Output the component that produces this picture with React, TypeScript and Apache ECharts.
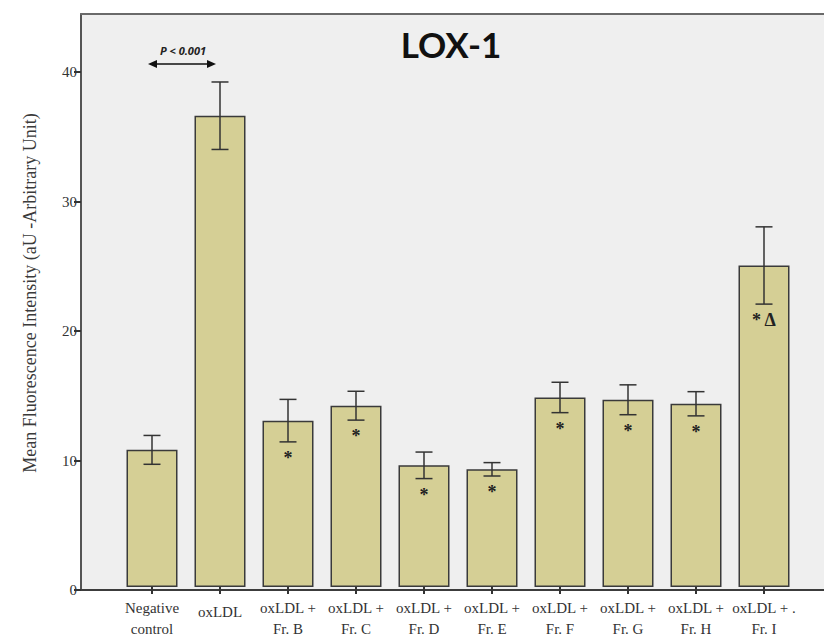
import React, { useEffect, useRef } from "react";
import * as echarts from "echarts";

const categories = [
  "Negative\ncontrol",
  "oxLDL",
  "oxLDL +\nFr. B",
  "oxLDL +\nFr. C",
  "oxLDL +\nFr. D",
  "oxLDL +\nFr. E",
  "oxLDL +\nFr. F",
  "oxLDL +\nFr. G",
  "oxLDL +\nFr. H",
  "oxLDL + .\nFr. I",
];
const means = [10.65, 36.6, 12.92, 14.08, 9.45, 9.14, 14.72, 14.54, 14.23, 24.97];
const errors = [1.12, 2.62, 1.65, 1.12, 1.03, 0.52, 1.18, 1.16, 0.94, 3.0];
const marks = ["", "", "*", "*", "*", "*", "*", "*", "*", "* \u0394"];
const yTicks = [0, 10, 20, 30, 40];
const yMax = 44.5;
const title = "LOX-1";
const yName = "Mean Fluorescence Intensity (aU -Arbitrary Unit)";
const pText = "P < 0.001";

const SERIF = "'Liberation Serif', 'DejaVu Serif', serif";

export default function App() {
  const ref = useRef<HTMLDivElement>(null);
  useEffect(() => {
    if (!ref.current) return;
    const chart = echarts.init(ref.current, undefined, { renderer: "svg" });
    const errData = means.map((m, i) => [i, m, errors[i], marks[i]]);
    const option: any = {
      animation: false,
      backgroundColor: "#ffffff",
      grid: [
        { left: 81, right: -2, top: 14, bottom: 49, show: true, backgroundColor: "#efefef", borderWidth: 0 },
        { left: 118, right: 26, top: 14, bottom: 49 },
      ],
      xAxis: [
        {
          gridIndex: 0, type: "value", min: 0, max: 1, position: "bottom",
          axisLine: { show: true, lineStyle: { color: "#3c3c3c", width: 2 } },
          axisTick: { show: false }, axisLabel: { show: false }, splitLine: { show: false },
        },
        {
          gridIndex: 0, type: "value", min: 0, max: 1, position: "top",
          axisLine: { show: true, lineStyle: { color: "#6a6a6a", width: 2 } },
          axisTick: { show: false }, axisLabel: { show: false }, splitLine: { show: false },
        },
        {
          gridIndex: 1, type: "category", data: categories, position: "bottom",
          axisLine: { show: false },
          axisTick: { show: true, alignWithLabel: true, length: 7, lineStyle: { color: "#333", width: 2 } },
          axisLabel: {
            interval: 0, margin: 10, color: "#333", fontFamily: SERIF, fontSize: 15, lineHeight: 21,
            formatter: (v: string) => (v.indexOf("\n") < 0 ? "{s|" + v + "}" : v),
            rich: { s: { fontFamily: SERIF, fontSize: 15, color: "#333", padding: [9, 0, 0, 0] } },
          },
        },
      ],
      yAxis: [
        {
          gridIndex: 0, type: "value", min: 0, max: yMax, interval: 10,
          axisLine: { show: true, lineStyle: { color: "#555", width: 2 } },
          axisTick: { show: true, length: 7, customValues: yTicks, lineStyle: { color: "#333", width: 2 } },
          axisLabel: { customValues: yTicks, margin: 4, color: "#333", fontFamily: SERIF, fontSize: 15 },
          splitLine: { show: false },
        },
        {
          gridIndex: 1, type: "value", min: 0, max: yMax, interval: 10, show: false,
          splitLine: { show: false },
        },
      ],
      series: [
        {
          type: "bar", xAxisIndex: 2, yAxisIndex: 1, data: means, barWidth: 51,
          itemStyle: { color: "#d5cf95", borderColor: "#3a3a3a", borderWidth: 1.5 },
        },
        {
          type: "custom", xAxisIndex: 2, yAxisIndex: 1, data: errData, z: 5,
          renderItem: (params: any, api: any) => {
            const i = api.value(0);
            const m = api.value(1);
            const e = api.value(2);
            const mk = marks[params.dataIndex];
            const top = api.coord([i, m + e]);
            const bot = api.coord([i, m - e]);
            const hw = 8.5;
            const st = { stroke: "#333", lineWidth: 1.5 };
            const children: any[] = [
              { type: "line", shape: { x1: top[0], y1: top[1], x2: bot[0], y2: bot[1] }, style: st },
              { type: "line", shape: { x1: top[0] - hw, y1: top[1], x2: top[0] + hw, y2: top[1] }, style: st },
              { type: "line", shape: { x1: bot[0] - hw, y1: bot[1], x2: bot[0] + hw, y2: bot[1] }, style: st },
            ];
            if (mk) {
              children.push({
                type: "text",
                x: bot[0],
                y: bot[1] + 16,
                style: {
                  text: mk, fill: "#222", font: "bold 18px " + SERIF,
                  align: "center", verticalAlign: "middle",
                },
              });
            }
            return { type: "group", children };
          },
        },
      ],
      graphic: [
        {
          type: "line", shape: { x1: 74, y1: 590, x2: 82, y2: 590 },
          style: { stroke: "#3c3c3c", lineWidth: 2 },
        },
        {
          type: "text", x: 451, y: 44,
          style: {
            text: title, font: "bold 35px Lato, 'Open Sans', sans-serif", fill: "#111",
            align: "center", verticalAlign: "middle",
          },
        },
        {
          type: "text", x: 183, y: 50,
          style: {
            text: pText, font: "italic bold 11px 'Open Sans', sans-serif", fill: "#222",
            align: "center", verticalAlign: "middle",
          },
        },
        {
          type: "line", shape: { x1: 154, y1: 64, x2: 210, y2: 64 },
          style: { stroke: "#111", lineWidth: 1.5 },
        },
        {
          type: "polygon", shape: { points: [[148, 64], [157, 60], [157, 68]] },
          style: { fill: "#111" },
        },
        {
          type: "polygon", shape: { points: [[216, 64], [207, 60], [207, 68]] },
          style: { fill: "#111" },
        },
        {
          type: "text", x: 30, y: 293, rotation: Math.PI / 2,
          style: {
            text: yName, font: "18px " + SERIF, fill: "#3a3a3a",
            align: "center", verticalAlign: "middle",
          },
        },
      ],
    };
    chart.setOption(option);
    return () => chart.dispose();
  }, []);
  return (
    <div
      ref={ref}
      style={{ position: "absolute", left: 0, top: 0, width: 824, height: 639 }}
    />
  );
}
